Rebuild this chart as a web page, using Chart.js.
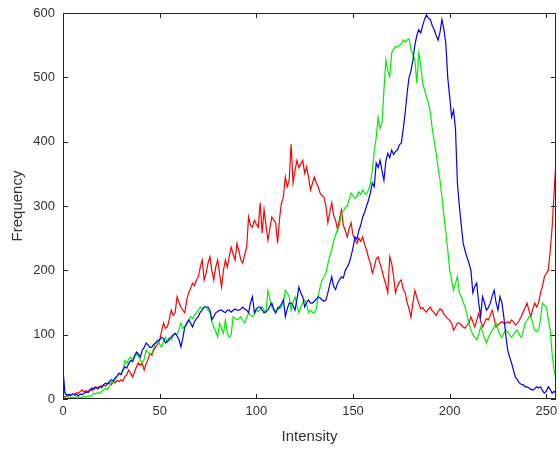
<!DOCTYPE html>
<html>
<head>
<meta charset="utf-8">
<script src="https://cdn.jsdelivr.net/npm/chart.js@4/dist/chart.umd.min.js"></script>
<style>
html,body{margin:0;padding:0;background:#fff;}
#c{display:block;}
</style>
</head>
<body>
<canvas id="c" width="559" height="454"></canvas>
<script>
const xTicks = [0, 50, 100, 150, 200, 250];
const yTicks = [0, 100, 200, 300, 400, 500, 600];

const redValues = [
5,3,4,6,5,8,7,10,9,12,
14,11,13,11,15,13,18,19,16,20,
17,22,20,24,25,22,27,25,29,27,
30,28,35,38,45,40,34,42,50,56,
52,56,45,55,62,71,68,76,81,85,
92,105,118,110,112,124,138,130,134,159,
150,143,138,134,154,165,172,180,176,185,
190,205,216,185,195,211,221,200,185,205,
216,195,174,200,216,205,222,236,225,216,
242,230,216,211,225,236,283,270,267,278,
272,267,305,258,294,270,247,265,283,278,
274,242,280,305,314,345,330,340,396,336,
355,371,360,365,371,351,361,345,325,335,
345,336,330,320,316,314,300,274,290,305,
285,278,263,280,294,270,262,252,265,274,
255,248,242,250,245,252,240,232,220,210,
196,205,218,221,210,200,188,178,165,221,
211,190,165,175,182,185,170,165,150,140,
127,150,169,158,149,140,142,138,135,140,
143,137,134,130,136,140,138,132,128,125,
122,118,107,112,118,118,115,112,110,115,
118,128,120,112,122,133,122,112,118,125,
123,130,138,125,112,115,118,120,118,118,
120,118,123,120,115,118,122,128,135,142,
149,138,128,140,149,143,150,165,175,190,
195,200,230,267,320,371
];

const greenValues = [
20,8,4,3,2,3,2,4,3,2,
3,4,3,5,4,6,9,8,10,9,
12,14,17,15,20,27,25,30,35,40,
38,45,60,55,62,65,60,68,71,66,
60,56,62,76,72,70,71,80,88,92,
85,81,90,96,88,92,92,98,102,100,
108,118,110,112,115,122,128,125,130,134,
138,143,140,143,143,138,134,120,112,105,
96,118,110,102,123,102,96,100,128,125,
123,125,128,122,118,126,134,130,128,132,
138,136,140,143,138,134,169,155,143,138,
134,143,140,143,150,169,165,159,138,150,
159,145,134,143,150,154,148,134,138,135,
134,140,160,174,185,190,196,210,222,232,
245,255,263,270,289,292,298,300,310,320,
316,312,314,322,318,325,320,318,325,335,
356,385,407,438,420,429,480,527,510,501,
538,543,548,547,550,552,558,555,558,560,
543,535,527,491,538,520,491,480,470,460,
445,420,400,382,360,340,314,285,260,232,
200,185,169,180,190,165,159,150,143,130,
118,107,100,96,92,100,112,105,95,87,
95,102,107,112,118,108,100,96,102,107,
104,100,96,100,104,107,100,96,105,118,
122,128,128,118,107,105,107,125,149,146,
143,125,107,70,45,30
];

const blueValues = [
45,10,6,7,6,8,6,7,5,8,
7,9,11,10,14,17,15,18,16,19,
20,22,25,23,27,30,28,33,36,40,
38,45,50,48,55,60,58,66,73,70,
65,76,80,87,84,80,81,85,87,90,
92,96,94,87,90,94,96,100,102,98,
92,81,95,112,118,123,118,112,120,125,
128,135,138,143,143,143,138,123,128,134,
136,138,138,136,134,138,138,135,138,140,
138,138,140,143,140,138,134,150,159,134,
140,143,143,138,134,136,138,145,149,140,
134,140,143,148,154,128,140,149,149,145,
138,155,174,165,159,143,150,154,149,149,
152,155,159,157,154,152,154,165,178,190,
175,170,180,185,190,188,200,205,211,222,
235,252,248,262,270,283,290,300,309,320,
336,330,367,360,371,355,340,370,382,375,
387,380,385,387,395,398,420,445,476,500,
510,527,550,565,574,569,580,590,597,592,
590,580,574,565,558,570,590,575,553,500,
470,438,449,420,336,300,270,242,230,220,
211,200,165,175,180,150,128,159,150,138,
142,149,160,169,150,138,159,150,128,100,
76,65,56,45,34,30,25,23,22,19,
19,17,15,14,16,19,17,19,13,9,
12,19,15,9,12,9
];

function toPoints(arr){ return arr.map((v,i)=>({x:i,y:v})); }

const axisColor = '#262626';
const textColor = '#333333';
const fontFamily = '"Liberation Sans", Arial, Helvetica, sans-serif';

const boxPlugin = {
  id: 'boxTicks',
  afterDraw(chart){
    const {ctx, chartArea:a, scales:{x, y}} = chart;
    ctx.save();
    ctx.strokeStyle = axisColor;
    ctx.lineWidth = 1;
    ctx.strokeRect(Math.round(a.left)+0.5, Math.round(a.top)+0.5, Math.round(a.right-a.left)-1, Math.round(a.bottom-a.top)-1);
    const L = 5;
    ctx.beginPath();
    xTicks.forEach(t=>{
      const px = Math.round(x.getPixelForValue(t))+0.5;
      ctx.moveTo(px, a.bottom); ctx.lineTo(px, a.bottom-L);
      ctx.moveTo(px, a.top); ctx.lineTo(px, a.top+L);
    });
    yTicks.forEach(t=>{
      const py = Math.round(y.getPixelForValue(t))+0.5;
      ctx.moveTo(a.left, py); ctx.lineTo(a.left+L, py);
      ctx.moveTo(a.right, py); ctx.lineTo(a.right-L, py);
    });
    ctx.stroke();
    ctx.restore();
  }
};

new Chart(document.getElementById('c'), {
  type: 'line',
  data: {
    datasets: [
      {label:'R', data: toPoints(redValues), borderColor:'#ff0000', borderWidth:1.2, pointRadius:0, tension:0, order:3},
      {label:'G', data: toPoints(greenValues), borderColor:'#00ee00', borderWidth:1.2, pointRadius:0, tension:0, order:2},
      {label:'B', data: toPoints(blueValues), borderColor:'#0000ff', borderWidth:1.2, pointRadius:0, tension:0, order:1}
    ]
  },
  options: {
    responsive: false,
    animation: false,
    events: [],
    layout: {padding: {top: 13, right: 3, left: 0, bottom: 0}},
    plugins: {legend: {display:false}, tooltip: {enabled:false}},
    scales: {
      x: {
        type: 'linear', min: 0, max: 255,
        afterBuildTicks(s){ s.ticks = xTicks.map(v=>({value:v})); },
        afterFit(s){ s.height = 55; s.paddingLeft = 0; s.paddingRight = 0; },
        grid: {display:false, drawTicks:false},
        border: {display:false},
        ticks: {padding: 5, color: textColor, font:{family:fontFamily, size:13}, maxRotation:0, autoSkip:false},
        title: {display:true, text:'Intensity', color:textColor, font:{family:fontFamily, size:15}, padding:{top:0, bottom:8}}
      },
      y: {
        type: 'linear', min: 0, max: 600,
        afterBuildTicks(s){ s.ticks = yTicks.map(v=>({value:v})); },
        afterFit(s){ s.width = 63; s.paddingTop = 0; s.paddingBottom = 0; },
        grid: {display:false, drawTicks:false},
        border: {display:false},
        ticks: {padding: 8, color: textColor, font:{family:fontFamily, size:13}, autoSkip:false},
        title: {display:true, text:'Frequency', color:textColor, font:{family:fontFamily, size:15}, padding:{top:9, bottom:0}}
      }
    }
  },
  plugins: [boxPlugin]
});
</script>
</body>
</html>
